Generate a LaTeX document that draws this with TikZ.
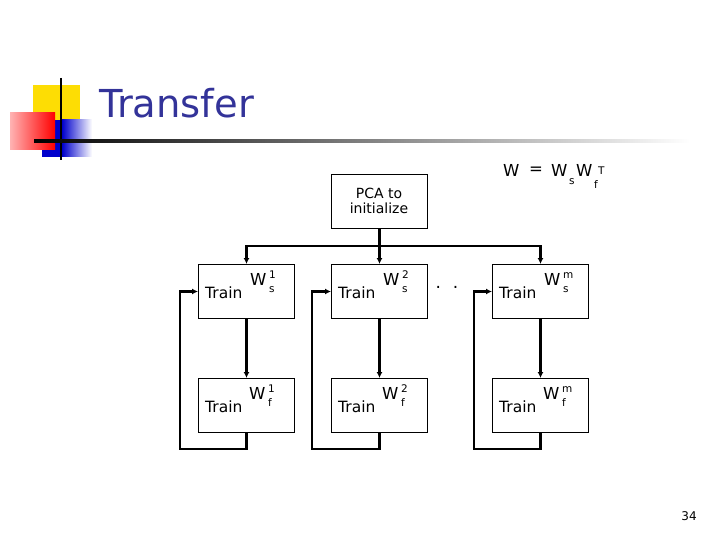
\documentclass[tikz,border=0pt]{standalone}
\usepackage{fontspec}
\setmainfont{DejaVu Sans}
\usetikzlibrary{arrows.meta}
\definecolor{tblue}{HTML}{333399}
\begin{document}
\begin{tikzpicture}[x=1pt,y=-1pt,
  box/.style={draw,line width=1pt,minimum width=96pt,minimum height=54pt,anchor=north west,inner sep=0pt},
  con/.style={line width=2.6pt,-{Latex[length=6pt,width=6pt]}},
  lbl/.style={font=\fontsize{15.5}{15.5}\selectfont,anchor=base west,inner sep=0pt},
  wl/.style={font=\fontsize{16.5}{16.5}\selectfont,anchor=base west,inner sep=0pt},
  sm/.style={font=\fontsize{10.5}{10.5}\selectfont,anchor=base west,inner sep=0pt}]
\useasboundingbox (0,0) rectangle (720,540);
% logo
\fill[yellow!80!orange] (33,85) rectangle (80,125);
\shade[left color=blue!80!black,right color=white] (62,120) rectangle (92,157);
\fill[blue!80!black] (42,120) rectangle (62,157);
\shade[left color=red!30!white,right color=red] (10,113) rectangle (55,150);
\draw[line width=1.5pt] (61,78) -- (61,160);
\shade[left color=black,right color=white,middle color=gray] (34,139.5) rectangle (690,142.5);
\node[font=\fontsize{38.5}{38.5}\selectfont,text=tblue,anchor=base west,inner sep=0pt] (title) at (99,118) {Transfer};
% formula
\node[wl] (eqw0) at (503,177) {W};
\node[wl] (eqeq) at (529,175) {=};
\node[wl] (eq) at (551,177) {W};
\node[sm] (eqs) at (569,185) {s};
\node[wl] (eqw) at (576,177) {W};
\node[sm] (eqf) at (594,189) {f};
\node[sm] (eqt) at (598,175) {T};
% boxes
\node[box] (pca) at (331,174) {};
\node[font=\fontsize{14}{15}\selectfont,align=center] (pcat) at (379,201) {PCA to\\initialize};
\foreach \n/\x/\d in {1/198/1,2/331/2,3/492/m}{
  \node[box] (s\n) at (\x,264) {};
  \node[box] (f\n) at (\x,378) {};
  \node[lbl] (st\n) at (\x+7,298) {Train};
  \node[wl] (sw\n) at (\x+52,285) {W};
  \node[sm] (sd\n) at (\x+71,278) {\d};
  \node[sm] (ss\n) at (\x+71,292) {s};
  \node[lbl] (ft\n) at (\x+7,412) {Train};
  \node[wl] (fw\n) at (\x+51,399) {W};
  \node[sm] (fd\n) at (\x+70,392) {\d};
  \node[sm] (fs\n) at (\x+70,406) {f};
}
\coordinate (bus) at (379,246);
\draw[con] (pca.south) -- (s2.north);
\draw[con] (bus) -| (s1.north);
\draw[con] (bus) -| (s3.north);
\foreach \n/\lx in {1/180,2/312,3/474}{
  \draw[con] (s\n.south) -- (f\n.north);
  \coordinate (l\n) at (\lx,449);
  \draw[con] (f\n.south) |- (l\n) |- (s\n.west);
}
\node[font=\fontsize{17}{17}\selectfont,inner sep=0pt] (dots) at (447,287) {.\hspace{12pt}.};
\node[font=\fontsize{12}{12}\selectfont,inner sep=0pt] (pg) at (689,516) {34};
\end{tikzpicture}
\end{document}
